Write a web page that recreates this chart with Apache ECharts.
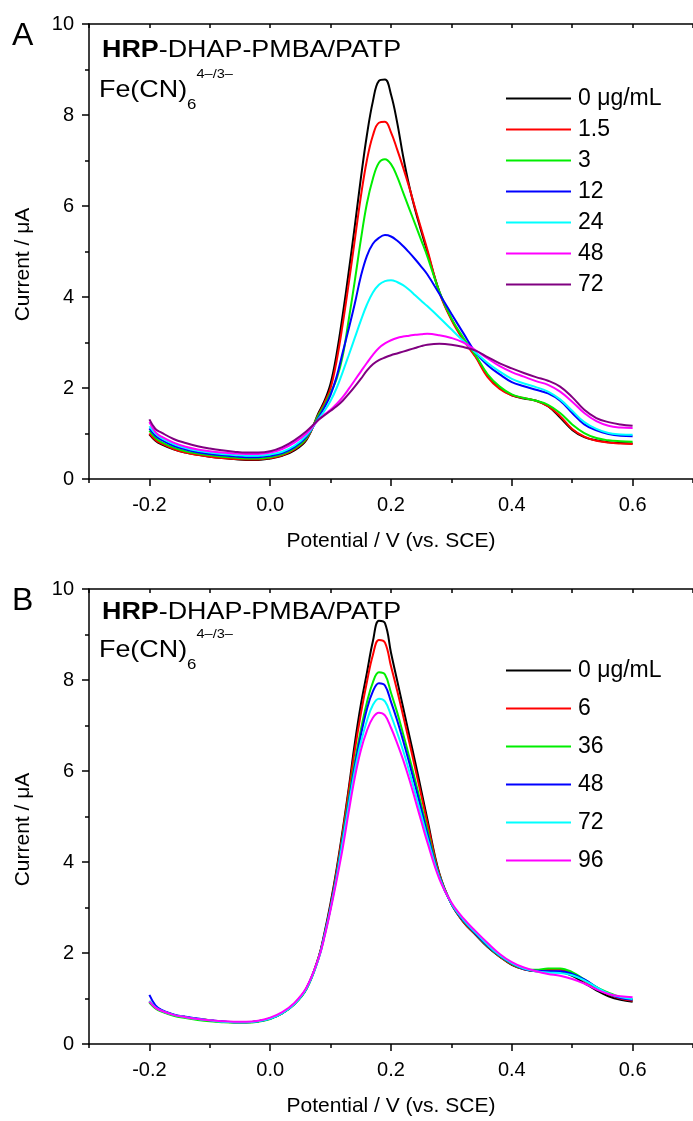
<!DOCTYPE html>
<html><head><meta charset="utf-8">
<script src="https://cdn.jsdelivr.net/npm/echarts@6/dist/echarts.min.js"></script>
<style>html,body{margin:0;padding:0;background:#fff}#c{width:693px;height:1121px}</style>
</head><body><div id="c"></div>
<script>
// ---------- data ----------
const potential = [-0.2,-0.19,-0.18,-0.16,-0.14,-0.12,-0.1,-0.08,-0.06,-0.04,-0.02,0,0.02,0.04,0.06,
  0.08,0.09,0.1,0.11,0.12,0.13,0.14,0.15,0.16,0.17,0.18,0.19,0.2,0.21,0.22,0.23,0.24,0.25,0.26,
  0.28,0.3,0.32,0.34,0.36,0.38,0.4,0.42,0.44,0.46,0.48,0.5,0.52,0.54,0.56,0.58,0.6];

// Panel A
const labelsA = ['0 μg/mL','1.5','3','12','24','48','72'];
const a0   = [0.98,0.84,0.76,0.65,0.58,0.53,0.49,0.46,0.44,0.42,0.42,0.45,0.51,0.63,0.86,
  1.45,1.72,2.1,2.75,3.6,4.55,5.55,6.6,7.55,8.3,8.75,8.78,8.45,7.85,7.1,6.45,5.92,5.45,5.0,
  4.12,3.52,3.07,2.7,2.27,2.0,1.84,1.77,1.72,1.6,1.35,1.08,0.92,0.85,0.81,0.79,0.78];
const a1_5 = [1.0,0.86,0.78,0.66,0.58,0.53,0.49,0.46,0.44,0.43,0.43,0.46,0.52,0.65,0.88,
  1.42,1.68,2.0,2.6,3.4,4.3,5.25,6.2,7.0,7.55,7.83,7.85,7.62,7.25,6.85,6.42,5.95,5.5,5.05,
  4.1,3.5,3.05,2.68,2.24,1.98,1.84,1.78,1.72,1.6,1.38,1.1,0.93,0.84,0.8,0.78,0.77];
const a3   = [1.06,0.9,0.81,0.69,0.61,0.56,0.52,0.49,0.47,0.45,0.45,0.48,0.54,0.67,0.9,
  1.4,1.62,1.9,2.2,2.7,3.5,4.35,5.25,6.05,6.6,6.95,7.03,6.92,6.65,6.3,5.95,5.6,5.25,4.9,
  4.12,3.53,3.1,2.72,2.3,2.03,1.86,1.78,1.72,1.63,1.45,1.2,1.01,0.9,0.85,0.83,0.82];
const a12  = [1.11,0.95,0.86,0.73,0.65,0.59,0.55,0.52,0.5,0.48,0.48,0.51,0.57,0.7,0.93,
  1.35,1.58,1.85,2.25,2.78,3.3,3.85,4.45,4.9,5.17,5.3,5.36,5.33,5.24,5.12,4.98,4.83,4.67,4.5,
  4.07,3.63,3.2,2.78,2.5,2.3,2.13,2.04,1.96,1.88,1.72,1.45,1.2,1.07,0.99,0.95,0.94];
const a24  = [1.16,1.0,0.9,0.77,0.68,0.62,0.58,0.55,0.53,0.51,0.51,0.54,0.6,0.73,0.96,
  1.32,1.5,1.72,2.0,2.35,2.72,3.1,3.48,3.83,4.1,4.27,4.35,4.37,4.33,4.26,4.16,4.04,3.92,3.8,
  3.55,3.29,3.03,2.78,2.55,2.36,2.2,2.1,2.02,1.92,1.75,1.5,1.25,1.1,1.01,0.98,0.97];
const a48  = [1.25,1.03,0.93,0.8,0.71,0.65,0.61,0.58,0.56,0.55,0.55,0.58,0.66,0.8,1.0,
  1.3,1.42,1.52,1.65,1.8,1.98,2.17,2.36,2.55,2.73,2.88,2.98,3.05,3.1,3.13,3.15,3.17,3.18,3.19,
  3.16,3.1,3.0,2.83,2.65,2.48,2.35,2.25,2.15,2.07,1.92,1.7,1.45,1.27,1.17,1.13,1.12];
const a72  = [1.31,1.1,1.02,0.88,0.79,0.72,0.67,0.63,0.6,0.58,0.58,0.61,0.7,0.85,1.05,
  1.3,1.4,1.5,1.6,1.72,1.87,2.03,2.2,2.38,2.52,2.61,2.67,2.72,2.76,2.8,2.84,2.88,2.92,2.95,
  2.97,2.95,2.9,2.82,2.68,2.54,2.43,2.33,2.24,2.16,2.03,1.8,1.52,1.34,1.25,1.2,1.17];

// Panel B
const labelsB = ['0 μg/mL','6','36','48','72','96'];
const b0  = [0.93,0.8,0.73,0.64,0.59,0.55,0.52,0.49,0.48,0.48,0.5,0.56,0.68,0.88,1.22,
  1.9,2.45,3.1,3.85,4.7,5.62,6.6,7.45,8.15,8.85,9.3,9.25,8.6,8.0,7.4,6.8,6.2,5.58,4.95,
  3.75,3.08,2.68,2.4,2.13,1.92,1.74,1.64,1.6,1.6,1.58,1.5,1.34,1.18,1.05,0.97,0.93];
const b6  = [0.94,0.81,0.73,0.64,0.59,0.55,0.52,0.49,0.48,0.48,0.5,0.56,0.68,0.88,1.22,
  1.9,2.42,3.05,3.8,4.65,5.55,6.45,7.25,7.95,8.55,8.88,8.82,8.3,7.78,7.22,6.65,6.06,5.47,4.87,
  3.73,3.08,2.68,2.41,2.14,1.92,1.75,1.64,1.61,1.63,1.63,1.55,1.39,1.22,1.09,1.0,0.95];
const b36 = [0.91,0.78,0.71,0.62,0.57,0.53,0.5,0.48,0.47,0.47,0.49,0.55,0.67,0.87,1.2,
  1.88,2.4,3.0,3.72,4.55,5.4,6.2,6.9,7.5,7.95,8.17,8.12,7.72,7.3,6.82,6.32,5.8,5.26,4.72,
  3.7,3.08,2.7,2.42,2.15,1.93,1.76,1.65,1.63,1.66,1.66,1.58,1.42,1.25,1.13,1.03,0.98];
const b48 = [1.08,0.85,0.75,0.65,0.6,0.56,0.52,0.5,0.48,0.48,0.5,0.56,0.68,0.88,1.22,
  1.88,2.4,3.0,3.7,4.5,5.32,6.1,6.78,7.35,7.75,7.93,7.88,7.52,7.12,6.67,6.19,5.68,5.16,4.63,
  3.68,3.08,2.71,2.43,2.16,1.94,1.77,1.65,1.61,1.6,1.6,1.54,1.42,1.25,1.1,1.01,0.97];
const b72 = [0.95,0.81,0.73,0.64,0.59,0.55,0.52,0.49,0.48,0.48,0.5,0.56,0.68,0.88,1.22,
  1.87,2.38,2.98,3.66,4.45,5.25,6.0,6.62,7.1,7.45,7.59,7.53,7.22,6.85,6.45,6.0,5.52,5.03,4.54,
  3.66,3.09,2.73,2.45,2.18,1.95,1.78,1.66,1.6,1.57,1.56,1.51,1.4,1.25,1.11,1.03,0.99];
const b96 = [0.93,0.8,0.73,0.64,0.59,0.55,0.52,0.5,0.49,0.49,0.51,0.58,0.7,0.9,1.24,
  1.88,2.36,2.95,3.6,4.3,5.1,5.85,6.45,6.88,7.17,7.28,7.22,6.95,6.62,6.25,5.83,5.37,4.9,4.44,
  3.63,3.11,2.76,2.48,2.22,1.98,1.8,1.68,1.6,1.54,1.5,1.43,1.33,1.2,1.1,1.05,1.03];

const xMajorTicks = [-0.2, 0, 0.2, 0.4, 0.6];
const xMinorTicks = [-0.3, -0.1, 0.1, 0.3, 0.5, 0.7];
const xAllTicks = [-0.3,-0.2,-0.1,0,0.1,0.2,0.3,0.4,0.5,0.6,0.7];

// ---------- styles ----------
const colorsA = ['#000000','#ff0000','#00ee00','#0000ff','#00ffff','#ff00ff','#800080'];
const colorsB = ['#000000','#ff0000','#00ee00','#0000ff','#00ffff','#ff00ff'];
const F = '"Liberation Sans", Arial, sans-serif';
const seriesA = [a0,a1_5,a3,a12,a24,a48,a72];
const seriesB = [b0,b6,b36,b48,b72,b96];

const GRID_LEFT = 89, GRID_W = 612, GRID_H = 455;
const tops = [24, 589];

function pairs(ys){ return potential.map((x,i)=>[x, ys[i]]); }
const axLine = {color:'#000', width:1.5};

const grids = tops.map(t => ({left:GRID_LEFT, top:t, width:GRID_W, height:GRID_H}));
const xAxes = [], yAxes = [];
[0,1].forEach(g => {
  xAxes.push({gridIndex:g, type:'value', min:-0.3, max:0.7, position:'bottom',
    axisLine:{onZero:false, lineStyle:axLine},
    axisTick:{customValues:xMajorTicks, length:7, lineStyle:axLine},
    axisLabel:{customValues:xMajorTicks, formatter:v=>v.toFixed(1), margin:16, fontSize:20, fontFamily:F, color:'#000'},
    splitLine:{show:false},
    name:'Potential / V (vs. SCE)', nameLocation:'middle', nameGap:52,
    nameTextStyle:{fontSize:21, fontFamily:F, color:'#000'}});
  xAxes.push({gridIndex:g, type:'value', min:-0.3, max:0.7, position:'bottom',
    axisLine:{show:false}, axisTick:{customValues:xMinorTicks, length:4, lineStyle:axLine},
    axisLabel:{show:false}, splitLine:{show:false}});
  xAxes.push({gridIndex:g, type:'value', min:-0.3, max:0.7, position:'top',
    axisLine:{onZero:false, lineStyle:axLine},
    axisTick:{customValues:xAllTicks, inside:true, length:4, lineStyle:axLine},
    axisLabel:{show:false}, splitLine:{show:false}});
  yAxes.push({gridIndex:g, type:'value', min:0, max:10, interval:2, position:'left',
    axisLine:{show:true, onZero:false, lineStyle:axLine},
    axisTick:{show:true, length:7, lineStyle:axLine},
    minorTick:{show:true, splitNumber:2, length:4, lineStyle:axLine},
    axisLabel:{fontSize:20, fontFamily:F, color:'#000', margin:15},
    splitLine:{show:false}, minorSplitLine:{show:false},
    name:'Current / μA', nameLocation:'middle', nameGap:55,
    nameTextStyle:{fontSize:21, fontFamily:F, color:'#000', padding:[0,26,0,0]}});
});

const series = [];
seriesA.forEach((ys,i) => series.push({type:'line', name:'A '+labelsA[i], xAxisIndex:0, yAxisIndex:0,
  data:pairs(ys), symbol:'none', showSymbol:false, smooth:0.4,
  lineStyle:{color:colorsA[i], width:2}, itemStyle:{color:colorsA[i]}, emphasis:{disabled:true}}));
seriesB.forEach((ys,i) => series.push({type:'line', name:'B '+labelsB[i], xAxisIndex:3, yAxisIndex:1,
  data:pairs(ys), symbol:'none', showSymbol:false, smooth:0.4,
  lineStyle:{color:colorsB[i], width:2}, itemStyle:{color:colorsB[i]}, emphasis:{disabled:true}}));

const legendBase = {orient:'vertical', left:501, icon:'rect', itemWidth:65, itemHeight:2, selectedMode:false,
  formatter:n=>n.slice(2), textStyle:{fontSize:23, lineHeight:23, fontFamily:F, color:'#000', padding:[0,0,0,2]}};

const SX = 1.12;
function headerText(y){ return {type:'text', x:102, y:y, scaleX:SX, style:{text:'{b|HRP}{n|-DHAP-PMBA/PATP}', verticalAlign:'middle', align:'left',
  rich:{b:{fontWeight:'bold', fontSize:24, fontFamily:F, fill:'#000'}, n:{fontSize:24, fontFamily:F, fill:'#000'}}}}; }
function feText(y){ return {type:'text', x:99, y:y, scaleX:SX, style:{text:'{m|Fe(CN)}{s|6}{p|4–/3–}', verticalAlign:'middle', align:'left',
  rich:{m:{fontSize:24, lineHeight:44, fontFamily:F, fill:'#000'},
        s:{fontSize:15, lineHeight:15, verticalAlign:'bottom', fontFamily:F, fill:'#000'},
        p:{fontSize:13, lineHeight:25, verticalAlign:'top', fontFamily:F, fill:'#000'}}}}; }
function letter(t,y){ return {type:'text', x:12, y:y, style:{text:t, fontSize:32, fontFamily:F, fill:'#000', align:'left', verticalAlign:'middle'}}; }

const chart = echarts.init(document.getElementById('c'), null, {renderer:'canvas'});
chart.setOption({
  animation:false, backgroundColor:'#fff',
  grid:grids, xAxis:xAxes, yAxis:yAxes, series:series,
  legend:[
    Object.assign({}, legendBase, {top:82, itemGap:8, data:labelsA.map(l=>'A '+l)}),
    Object.assign({}, legendBase, {top:654, itemGap:15, data:labelsB.map(l=>'B '+l)})
  ],
  graphic:[letter('A',36.5), letter('B',601.5), headerText(50.5), headerText(612.5), feText(90), feText(650)]
});
</script></body></html>
